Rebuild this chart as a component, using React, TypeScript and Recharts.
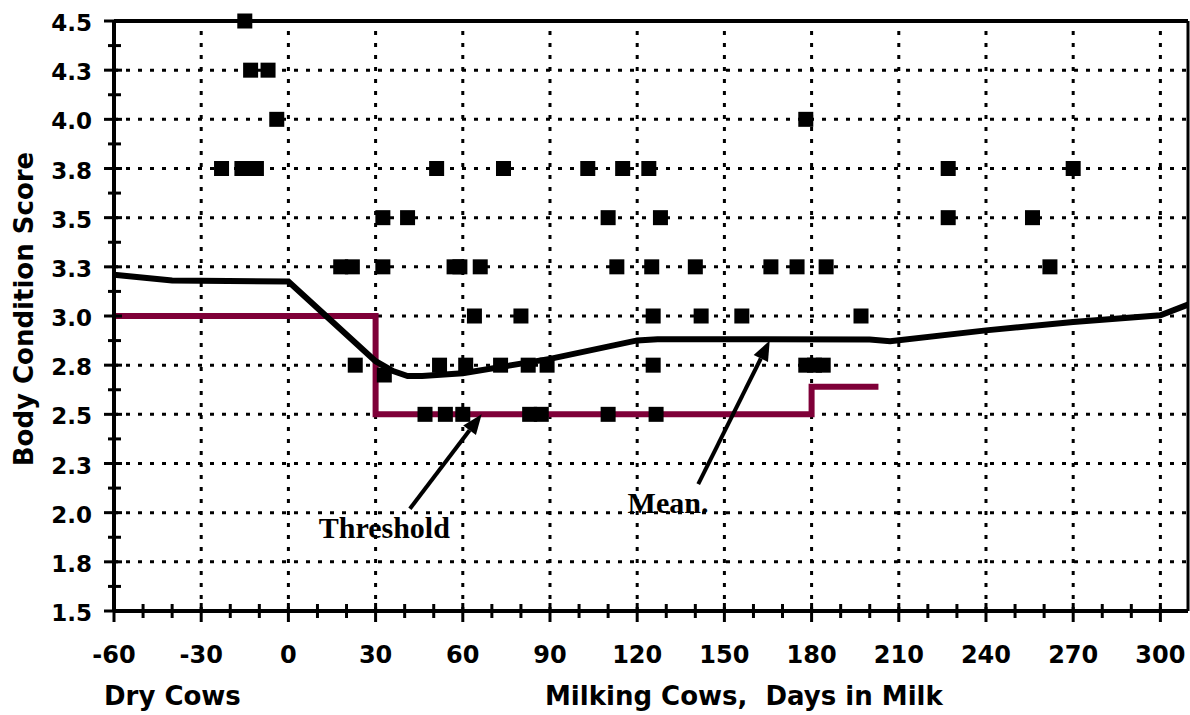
import React from "react";
import {
  ComposedChart,
  XAxis,
  YAxis,
  Line,
  Scatter,
  ReferenceLine,
  ReferenceDot,
} from "recharts";

// x axis: days relative to calving (negative = dry period)
const dayTicks = [
  -60, -50, -40, -30, -20, -10, 0, 10, 20, 30, 40, 50, 60, 70, 80, 90, 100, 110,
  120, 130, 140, 150, 160, 170, 180, 190, 200, 210, 220, 230, 240, 250, 260,
  270, 280, 290, 300,
];
const gridDays = [-30, 0, 30, 60, 90, 120, 150, 180, 210, 240, 270, 300];

// y axis: body condition score
const scoreMajorTicks = [
  1.5, 1.75, 2.0, 2.25, 2.5, 2.75, 3.0, 3.25, 3.5, 3.75, 4.0, 4.25, 4.5,
];
const scoreTickLabels = [
  "1.5", "1.8", "2.0", "2.3", "2.5", "2.8", "3.0", "3.3", "3.5", "3.8", "4.0", "4.3", "4.5",
];
const scoreMinorTicks = [
  1.625, 1.875, 2.125, 2.375, 2.625, 2.875, 3.125, 3.375, 3.625, 3.875, 4.125, 4.375,
];

// individual cows
const cowDays = [
  -15, // 4.5
  -13, -7, // 4.25
  -4, 178, // 4.0
  -23, -16, -11, 51, 74, 103, 115, 124, 227, 270, // 3.75
  32.5, 41, 110, 128, 227, 256, // 3.5
  18, 22, 32.5, 57, 59, 66, 113, 125, 140, 166, 175, 185, 262, // 3.25
  64, 80, 125.5, 142, 156, 197, // 3.0
  23, 52, 61, 73, 82.5, 89, 125.5, 178, 181, 184, // 2.75
  33, // 2.7
  47, 54, 60, 83, 87, 110, 126.5, // 2.5
];
const cowScores = [
  4.5,
  4.25, 4.25,
  4.0, 4.0,
  3.75, 3.75, 3.75, 3.75, 3.75, 3.75, 3.75, 3.75, 3.75, 3.75,
  3.5, 3.5, 3.5, 3.5, 3.5, 3.5,
  3.25, 3.25, 3.25, 3.25, 3.25, 3.25, 3.25, 3.25, 3.25, 3.25, 3.25, 3.25, 3.25,
  3.0, 3.0, 3.0, 3.0, 3.0, 3.0,
  2.75, 2.75, 2.75, 2.75, 2.75, 2.75, 2.75, 2.75, 2.75, 2.75,
  2.7,
  2.5, 2.5, 2.5, 2.5, 2.5, 2.5, 2.5,
];

// herd mean curve
const meanDays = [-60, -40, 0, 30, 36, 41, 46, 60, 90, 120, 127, 200, 207, 240, 270, 300, 309.5];
const meanScores = [
  3.21, 3.18, 3.175, 2.77, 2.72, 2.695, 2.695, 2.709, 2.782, 2.876, 2.882, 2.881,
  2.872, 2.927, 2.97, 3.004, 3.058,
];

// threshold step line
const thresholdDays = [-60, 30, 30, 180, 180, 203];
const thresholdScores = [3.0, 3.0, 2.5, 2.5, 2.64, 2.64];

const cows = cowDays.map((x, i) => ({ x, y: cowScores[i] }));
const mean = meanDays.map((x, i) => ({ x, y: meanScores[i] }));
const threshold = thresholdDays.map((x, i) => ({ x, y: thresholdScores[i] }));
const scoreTicks = [...scoreMajorTicks, ...scoreMinorTicks].sort((a, b) => a - b);

const SANS = "'DejaVu Sans', sans-serif";
const SERIF = "'Liberation Serif', 'Times New Roman', serif";
const MAROON = "#7f0038";
const GRID_DASH = "4 8";

const XTick = (props: any) => {
  const { x, y, payload } = props;
  const v = payload.value;
  const major = v % 30 === 0;
  return (
    <g>
      <line
        x1={x}
        x2={x}
        y1={y - (major ? 8 : 7)}
        y2={y + (major ? 11 : 7)}
        stroke="#000"
        strokeWidth={3}
      />
      {major && (
        <text
          x={x}
          y={y + 52}
          textAnchor="middle"
          fontFamily={SANS}
          fontWeight="bold"
          fontSize={24}
          fill="#000"
        >
          {v}
        </text>
      )}
    </g>
  );
};

const YTick = (props: any) => {
  const { x, y, payload } = props;
  const idx = scoreMajorTicks.indexOf(payload.value);
  const major = idx >= 0;
  return (
    <g>
      <line
        x1={x - (major ? 10 : 6)}
        x2={x + (major ? 8 : 7)}
        y1={y}
        y2={y}
        stroke="#000"
        strokeWidth={3}
      />
      {major && (
        <text
          x={x - 22}
          y={y + 10}
          textAnchor="end"
          fontFamily={SANS}
          fontWeight="bold"
          fontSize={23}
          fill="#000"
        >
          {scoreTickLabels[idx]}
        </text>
      )}
    </g>
  );
};

const CowMark = (props: any) => {
  const { cx, cy } = props;
  if (cx == null || cy == null) return null;
  return <rect x={cx - 7.5} y={cy - 7.5} width={15} height={15} fill="#000" />;
};

const Arrow = (props: any) => {
  const { x1, y1, x2, y2 } = props;
  if (x1 == null || x2 == null) return null;
  const a = Math.atan2(y2 - y1, x2 - x1);
  const len = 20;
  const half = 8;
  const bx = x2 - len * Math.cos(a);
  const by = y2 - len * Math.sin(a);
  const px = -Math.sin(a) * half;
  const py = Math.cos(a) * half;
  return (
    <g>
      <line x1={x1} y1={y1} x2={bx} y2={by} stroke="#000" strokeWidth={4} />
      <polygon
        points={`${x2},${y2} ${bx + px},${by + py} ${bx - px},${by - py}`}
        fill="#000"
      />
    </g>
  );
};

const note = (label: string) => (props: any) => {
  const { cx, cy } = props;
  if (cx == null || cy == null) return null;
  return (
    <text
      x={cx}
      y={cy}
      textAnchor="middle"
      fontFamily={SERIF}
      fontWeight="bold"
      fontSize={30}
      fill="#000"
    >
      {label}
    </text>
  );
};

const XTitles = (props: any) => {
  const vb = props.viewBox || { x: 114, y: 611 };
  return (
    <g fontFamily={SANS} fontWeight="bold" fontSize={26} fill="#000">
      <text x={vb.x - 10} y={vb.y + 94}>
        Dry Cows
      </text>
      <text x={vb.x + 431} y={vb.y + 94} style={{ whiteSpace: "pre" }}>
        {"Milking Cows,  Days in Milk"}
      </text>
    </g>
  );
};

const YTitle = (props: any) => {
  const vb = props.viewBox || { x: 0, y: 21, width: 114, height: 590 };
  const cx = 33;
  const cy = vb.y + vb.height / 2 - 7;
  return (
    <text
      x={cx}
      y={cy}
      transform={`rotate(-90, ${cx}, ${cy})`}
      textAnchor="middle"
      fontFamily={SANS}
      fontWeight="bold"
      fontSize={26}
      fill="#000"
    >
      Body Condition Score
    </text>
  );
};

export default function App() {
  return (
    <div
      style={{
        position: "absolute",
        left: 0,
        top: 0,
        width: 1190,
        height: 715,
        background: "#fff",
      }}
    >
      <ComposedChart
        width={1190}
        height={715}
        margin={{ top: 21, right: 2, left: 0, bottom: 74 }}
      >
        <XAxis
          type="number"
          dataKey="x"
          domain={[-60, 309.5]}
          ticks={dayTicks}
          interval={0}
          height={30}
          tickSize={0}
          tickMargin={0}
          tickLine={false}
          tick={<XTick />}
          axisLine={{ stroke: "#000", strokeWidth: 4 }}
          label={<XTitles />}
        />
        <YAxis
          type="number"
          dataKey="y"
          domain={[1.5, 4.5]}
          ticks={scoreTicks}
          interval={0}
          width={114}
          tickSize={0}
          tickMargin={0}
          tickLine={false}
          tick={<YTick />}
          axisLine={{ stroke: "#000", strokeWidth: 4 }}
          label={<YTitle />}
        />

        {gridDays.map((d) => (
          <ReferenceLine
            key={`gx${d}`}
            x={d}
            stroke="#000"
            strokeWidth={3}
            strokeDasharray={GRID_DASH}
          />
        ))}
        {scoreMajorTicks.slice(1, -1).map((s) => (
          <ReferenceLine
            key={`gy${s}`}
            y={s}
            stroke="#000"
            strokeWidth={3}
            strokeDasharray={GRID_DASH}
          />
        ))}
        <ReferenceLine y={4.5} stroke="#000" strokeWidth={4} />
        <ReferenceLine x={309.5} stroke="#000" strokeWidth={3} />

        <Scatter
          data={cows}
          dataKey="y"
          shape={<CowMark />}
          isAnimationActive={false}
        />
        <Line
          data={threshold}
          dataKey="y"
          type="linear"
          stroke={MAROON}
          strokeWidth={6}
          dot={false}
          activeDot={false}
          isAnimationActive={false}
        />
        <Line
          data={mean}
          dataKey="y"
          type="linear"
          stroke="#000"
          strokeWidth={6}
          dot={false}
          activeDot={false}
          isAnimationActive={false}
        />

        <ReferenceLine
          segment={[
            { x: 41.8, y: 2.02 },
            { x: 66.5, y: 2.5 },
          ]}
          shape={(p: any) => <Arrow {...p} />}
        />
        <ReferenceLine
          segment={[
            { x: 141, y: 2.145 },
            { x: 165.6, y: 2.875 },
          ]}
          shape={(p: any) => <Arrow {...p} />}
        />
        <ReferenceDot x={33} y={1.87} r={0} shape={note("Threshold")} />
        <ReferenceDot x={130.6} y={2.0} r={0} shape={note("Mean.")} />
      </ComposedChart>
    </div>
  );
}
